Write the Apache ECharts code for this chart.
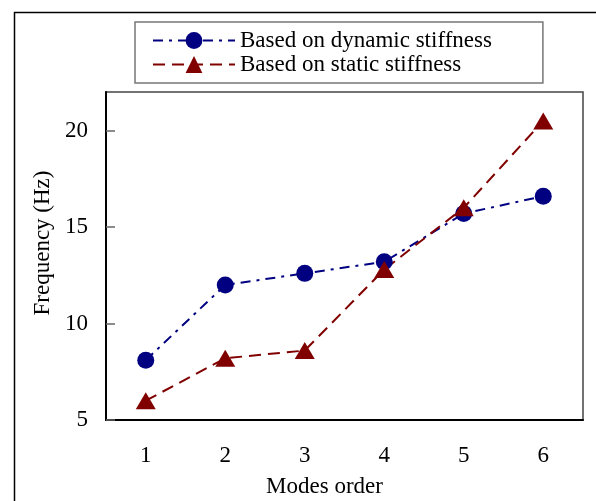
<!DOCTYPE html>
<html>
<head>
<meta charset="utf-8">
<script src="https://cdn.jsdelivr.net/npm/echarts@6/dist/echarts.min.js"></script>
<style>
  html, body { margin: 0; padding: 0; background: #fff; }
  #main { width: 596px; height: 501px; }
</style>
</head>
<body>
<div id="main"></div>
<script>
// modes 1..6
var modes = ["1", "2", "3", "4", "5", "6"];
// frequency (Hz)
var dynamicFreq = [8.1, 12.0, 12.6, 13.2, 15.7, 16.6];
var staticFreq = [6.0, 8.2, 8.6, 12.8, 16.0, 20.5];

var serif = "'Liberation Serif', 'DejaVu Serif', serif";

var chart = echarts.init(document.getElementById("main"));
chart.setOption({
  animation: false,
  backgroundColor: "#fff",
  textStyle: { fontFamily: serif },
  graphic: [{
    type: "polyline",
    shape: { points: [[14.5, 501], [14.5, 12.5], [596, 12.5]] },
    style: { stroke: "#000", lineWidth: 1.5, fill: null }
  }],
  legend: {
    left: 135,
    top: 22,
    orient: "vertical",
    itemWidth: 82,
    itemHeight: 21,
    itemGap: 1,
    padding: [7, 51, 7, 17],
    borderColor: "#777",
    borderWidth: 1.5,
    textStyle: { fontFamily: serif, fontSize: 23, color: "#000" },
    data: ["Based on dynamic stiffness", "Based on static stiffness"]
  },
  grid: {
    left: 106,
    top: 92,
    right: 13,
    bottom: 81,
    outerBoundsMode: "none",
    show: true,
    borderColor: "#444",
    borderWidth: 1.5
  },
  xAxis: {
    type: "category",
    data: modes,
    boundaryGap: true,
    name: "Modes order",
    nameLocation: "middle",
    nameGap: 55,
    nameTextStyle: { fontFamily: serif, fontSize: 23, color: "#000", padding: [0, 40, 0, 0] },
    axisLine: { lineStyle: { color: "#000", width: 2 } },
    axisTick: { inside: true, length: 8, lineStyle: { color: "#666", width: 1.5 } },
    axisLabel: { margin: 24, fontFamily: serif, fontSize: 23, color: "#000" }
  },
  yAxis: {
    type: "value",
    min: 5,
    max: 22,
    interval: 5,
    name: "Frequency (Hz)",
    nameLocation: "middle",
    nameGap: 52,
    nameTextStyle: { fontFamily: serif, fontSize: 23, color: "#000", padding: [0, 0, 0, 26] },
    splitLine: { show: false },
    axisLine: { show: true, lineStyle: { color: "#000", width: 2 } },
    axisTick: { show: true, inside: true, length: 9, lineStyle: { color: "#666", width: 1.5 } },
    axisLabel: { margin: 18, showMaxLabel: false, fontFamily: serif, fontSize: 23, color: "#000" }
  },
  series: [{
    name: "Based on dynamic stiffness",
    type: "line",
    data: dynamicFreq,
    symbol: "circle",
    symbolSize: 17,
    color: "#000080",
    lineStyle: { color: "#000080", width: 2, type: [10, 6, 3, 6] },
    itemStyle: { color: "#000080" }
  }, {
    name: "Based on static stiffness",
    type: "line",
    data: staticFreq,
    symbol: "triangle",
    symbolSize: [20, 17],
    color: "#800000",
    lineStyle: { color: "#800000", width: 2, type: [12, 7] },
    itemStyle: { color: "#800000" }
  }]
});
</script>
</body>
</html>
